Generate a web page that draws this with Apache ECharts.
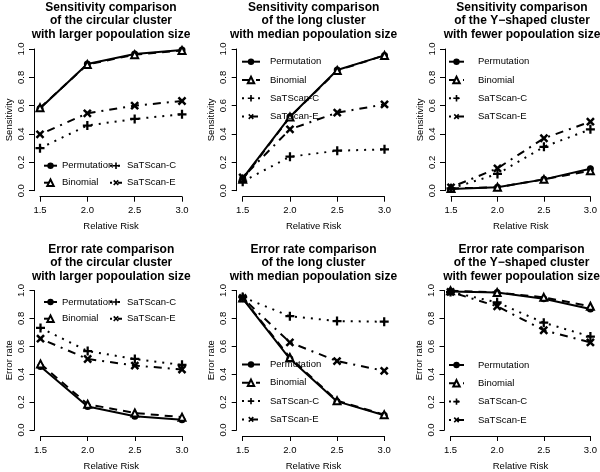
<!DOCTYPE html>
<html>
<head>
<meta charset="utf-8">
<script src="https://cdn.jsdelivr.net/npm/echarts@6/dist/echarts.min.js"></script>
<style>html,body{margin:0;padding:0;background:#fff}#c{width:600px;height:472px}</style>
</head>
<body>
<div id="c"></div>
<script>
// ---- data ----
const risk = [1.5, 2.0, 2.5, 3.0];
const methods = ['Permutation', 'Binomial', 'SaTScan-C', 'SaTScan-E'];
const yTickLabels = ['0.0', '0.2', '0.4', '0.6', '0.8', '1.0'];

const sensCircularPermutation = [0.58, 0.894, 0.965, 0.993];
const sensCircularBinomial    = [0.585, 0.89, 0.96, 0.99];
const sensCircularSatscanC    = [0.30, 0.46, 0.506, 0.539];
const sensCircularSatscanE    = [0.398, 0.546, 0.60, 0.633];

const sensLongPermutation = [0.087, 0.522, 0.852, 0.955];
const sensLongBinomial    = [0.08, 0.52, 0.848, 0.955];
const sensLongSatscanC    = [0.064, 0.24, 0.282, 0.292];
const sensLongSatscanE    = [0.094, 0.433, 0.551, 0.609];

const sensYPermutation = [0.012, 0.024, 0.08, 0.155];
const sensYBinomial    = [0.016, 0.024, 0.08, 0.14];
const sensYSatscanC    = [0.016, 0.118, 0.31, 0.433];
const sensYSatscanE    = [0.024, 0.158, 0.37, 0.487];

const errCircularPermutation = [0.455, 0.169, 0.099, 0.073];
const errCircularBinomial    = [0.474, 0.185, 0.122, 0.092];
const errCircularSatscanC    = [0.732, 0.566, 0.509, 0.467];
const errCircularSatscanE    = [0.655, 0.509, 0.462, 0.434];

const errLongPermutation = [0.941, 0.51, 0.205, 0.106];
const errLongBinomial    = [0.946, 0.52, 0.21, 0.11];
const errLongSatscanC    = [0.953, 0.816, 0.781, 0.776];
const errLongSatscanE    = [0.946, 0.628, 0.494, 0.424];

const errYPermutation = [0.993, 0.986, 0.941, 0.868];
const errYBinomial    = [0.998, 0.986, 0.951, 0.887];
const errYSatscanC    = [0.99, 0.915, 0.769, 0.67];
const errYSatscanE    = [0.99, 0.887, 0.715, 0.628];

const titles = [
  'Sensitivity comparison\nof the circular cluster\nwith larger popoulation size',
  'Sensitivity comparison\nof the long cluster\nwith median popoulation size',
  'Sensitivity comparison\nof the Y\u2212shaped cluster\nwith fewer popoulation size',
  'Error rate comparison\nof the circular cluster\nwith larger popoulation size',
  'Error rate comparison\nof the long cluster\nwith median popoulation size',
  'Error rate comparison\nof the Y\u2212shaped cluster\nwith fewer popoulation size'
];
const yNames = ['Sensitivity', 'Sensitivity', 'Sensitivity', 'Error rate', 'Error rate', 'Error rate'];
const xName = 'Relative Risk';
const panelData = [
  [sensCircularPermutation, sensCircularBinomial, sensCircularSatscanC, sensCircularSatscanE],
  [sensLongPermutation, sensLongBinomial, sensLongSatscanC, sensLongSatscanE],
  [sensYPermutation, sensYBinomial, sensYSatscanC, sensYSatscanE],
  [errCircularPermutation, errCircularBinomial, errCircularSatscanC, errCircularSatscanE],
  [errLongPermutation, errLongBinomial, errLongSatscanC, errLongSatscanE],
  [errYPermutation, errYBinomial, errYSatscanC, errYSatscanE]
];

// ---- layout / styles ----
const FONT = 'Liberation Sans, Arial, Helvetica, sans-serif';
const grids = [
  {left: 40, top: 49, width: 142, height: 141.7},
  {left: 242.7, top: 49, width: 141.8, height: 141.7},
  {left: 451, top: 49, width: 142, height: 141.7},
  {left: 40.5, top: 290.5, width: 141.5, height: 142},
  {left: 242.7, top: 290.5, width: 141.5, height: 142},
  {left: 450.5, top: 290.5, width: 142, height: 142}
];
const PLUS = 'path://M3,0H5V3H8V5H5V8H3V5H0V3H3Z';
const methodStyle = [
  {symbol: 'circle', symbolSize: 7, rotate: 0, dash: 'solid', bw: 0},
  {symbol: 'emptyTriangle', symbolSize: 7, rotate: 0, dash: [8, 6], bw: 1.5},
  {symbol: PLUS, symbolSize: 9, rotate: 0, dash: [2, 6], bw: 0},
  {symbol: PLUS, symbolSize: 10, rotate: 45, dash: [2, 6, 8, 6], bw: 0}
];

const option = {
  animation: false,
  backgroundColor: '#fff',
  title: [], grid: [], xAxis: [], yAxis: [], series: [], legend: []
};

grids.forEach((g, i) => {
  option.grid.push({left: g.left, top: g.top, width: g.width, height: g.height, containLabel: false});
  option.title.push({
    text: titles[i], left: g.left + g.width / 2, top: i < 3 ? 0.5 : 242.5, textAlign: 'center', padding: 0,
    textStyle: {fontFamily: FONT, fontWeight: 'bold', fontSize: 12, lineHeight: 13.6, color: '#000'}
  });
  option.xAxis.push({
    type: 'value', gridIndex: i, min: 1.5, max: 3.0, interval: 0.5, offset: 6,
    name: xName, nameLocation: 'middle', nameGap: 25,
    nameTextStyle: {fontFamily: FONT, fontSize: 9.5, color: '#000'},
    axisLine: {show: true, onZero: false, lineStyle: {color: '#000', width: 1}},
    axisTick: {show: true, length: 5, lineStyle: {color: '#000', width: 1}},
    axisLabel: {fontFamily: FONT, fontSize: 9.5, color: '#000', margin: 9, formatter: v => v.toFixed(1)},
    splitLine: {show: false}
  });
  option.yAxis.push({
    type: 'value', gridIndex: i, min: 0, max: 1, interval: 0.2, offset: 6,
    name: yNames[i], nameLocation: 'middle', nameGap: 20, nameRotate: 90,
    nameTextStyle: {fontFamily: FONT, fontSize: 9.5, color: '#000'},
    axisLine: {show: true, onZero: false, lineStyle: {color: '#000', width: 1}},
    axisTick: {show: true, length: 5, lineStyle: {color: '#000', width: 1}},
    axisLabel: {fontFamily: FONT, fontSize: 9.5, color: '#000', margin: 8, rotate: 90,
      formatter: v => yTickLabels[Math.round(v * 5)]},
    splitLine: {show: false}
  });
  panelData[i].forEach((vals, m) => {
    const st = methodStyle[m];
    option.series.push({
      type: 'line', name: methods[m], xAxisIndex: i, yAxisIndex: i,
      data: risk.map((x, k) => [x, vals[k]]),
      symbol: st.symbol, symbolSize: st.symbolSize, symbolRotate: st.rotate,
      clip: false, z: 2 + m,
      lineStyle: {color: '#000', width: 2, type: st.dash},
      itemStyle: {color: '#000', borderColor: '#000', borderWidth: st.bw},
      emphasis: {disabled: true}
    });
  });
});

const legendText = {fontFamily: FONT, fontSize: 9.5, color: '#000', lineHeight: 12};
function vLegend(left, top, iw, pad) {
  return {
    orient: 'vertical', left: left, top: top, itemWidth: iw, itemHeight: 8, itemGap: 6.3,
    data: methods, selectedMode: false, padding: 0,
    textStyle: Object.assign({}, legendText, {padding: [0, 0, 0, pad]})
  };
}
function colLegend(left, top, names, iw, gap) {
  return {
    orient: 'vertical', left: left, top: top, itemWidth: iw, itemHeight: 8, itemGap: gap,
    data: names, selectedMode: false, padding: 0, textStyle: legendText
  };
}
option.legend.push(colLegend(43, 159.7, ['Permutation', 'Binomial'], 13, 5));
option.legend.push(colLegend(109, 159.7, ['SaTScan-C', 'SaTScan-E'], 12, 5));
option.legend.push(colLegend(43, 296, ['Permutation', 'Binomial'], 13, 4.7));
option.legend.push(colLegend(109, 296, ['SaTScan-C', 'SaTScan-E'], 12, 4.7));
option.legend.push(vLegend(241, 55.7, 18, 5));
option.legend.push(vLegend(448, 55.7, 15, 9));
option.legend.push(vLegend(241, 358.5, 18, 5));
option.legend.push(vLegend(448, 359, 15, 9));

const chart = echarts.init(document.getElementById('c'), null, {renderer: 'canvas'});
chart.setOption(option);
</script>
</body>
</html>
